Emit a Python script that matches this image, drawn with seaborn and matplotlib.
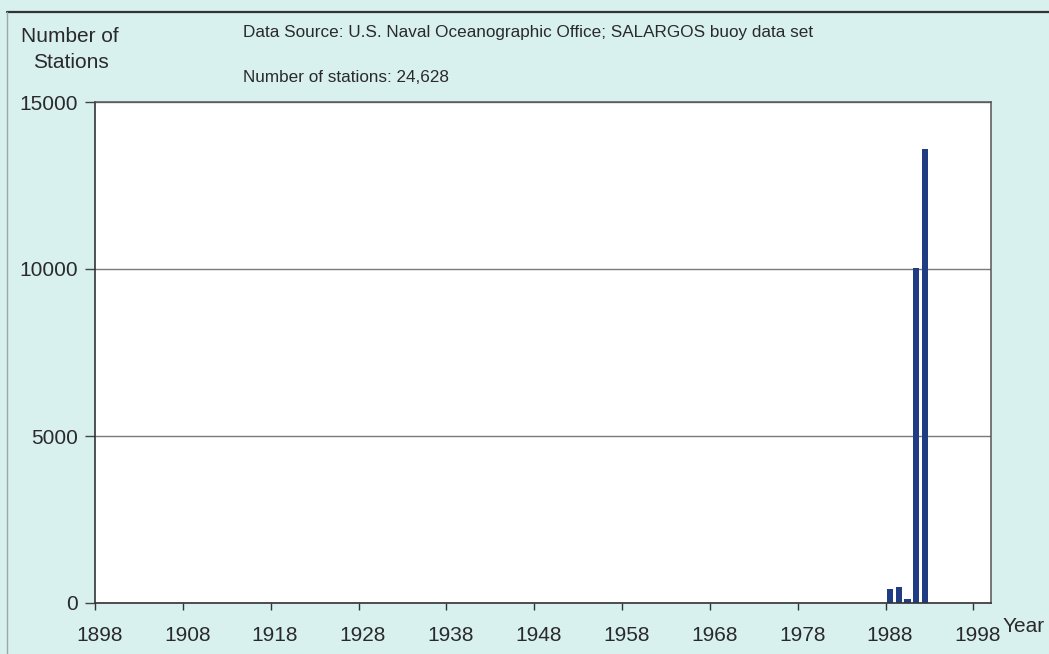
import matplotlib
matplotlib.use("Agg")
import matplotlib.pyplot as plt
from matplotlib.lines import Line2D
import numpy as np
import pandas as pd
import seaborn as sns

# Yearly station counts, 1898-1999 (only 1988-1992 carry observations)
years = list(range(1898, 2000))
obs_years = [1988, 1989, 1990, 1991, 1992]
obs_counts = [420, 470, 128, 10030, 13580]

y_ticks = [0, 5000, 10000, 15000]
x_label_years = [1898, 1908, 1918, 1928, 1938, 1948, 1958, 1968, 1978, 1988, 1998]

title_source = "Data Source: U.S. Naval Oceanographic Office; SALARGOS buoy data set"
title_total = "Number of stations: 24,628"

counts = {y: 0 for y in years}
counts.update(dict(zip(obs_years, obs_counts)))
df = pd.DataFrame({"year": [str(y) for y in years],
                   "stations": [counts[y] for y in years]})

sns.set_theme(style="white")
plt.rcParams["font.family"] = ["Liberation Sans", "DejaVu Sans"]

W, H = 1049, 654
fig = plt.figure(figsize=(W / 100, H / 100), dpi=100)
fig.patch.set_facecolor("#d8f0ee")

left, right, top, bottom = 95, 991, 102, 603
ax = fig.add_axes([left / W, 1 - bottom / H, (right - left) / W, (bottom - top) / H])
ax.set_facecolor("white")

sns.barplot(data=df, x="year", y="stations", order=[str(y) for y in years],
            color="#203c82", saturation=1, width=0.72, linewidth=0, ax=ax)

n = len(years)
ax.set_xlim(-0.5, n - 0.5)
ax.set_ylim(0, 15000)

# tick marks sit on category boundaries, labels on category centres
idx = [years.index(y) for y in x_label_years]
ax.set_xticks([i - 0.5 for i in idx])
ax.set_xticklabels([])
ax.set_xticks(idx, minor=True)
ax.set_xticklabels([str(y) for y in x_label_years], minor=True)
ax.tick_params(axis="x", which="major", bottom=True, length=5, width=1,
               color="#333333", direction="out")
ax.tick_params(axis="x", which="minor", bottom=True, length=0, pad=16.5,
               labelsize=15, labelcolor="#2a2a2a")

ax.set_yticks(y_ticks)
ax.set_yticklabels([str(v) for v in y_ticks])
ax.tick_params(axis="y", left=True, length=7, width=1, color="#444444", direction="out",
               labelsize=15, labelcolor="#2a2a2a", pad=5.5)
ax.yaxis.grid(True, color="#7a7a7a", linewidth=1)
ax.set_axisbelow(True)

ax.set_xlabel("")
ax.set_ylabel("")
for side in ["left", "bottom"]:
    ax.spines[side].set_color("#333333")
    ax.spines[side].set_linewidth(1.2)
for side in ["top", "right"]:
    ax.spines[side].set_visible(True)
    ax.spines[side].set_color("#555555")
    ax.spines[side].set_linewidth(1.1)

# chart frame (top and left edges)
fig.add_artist(Line2D([7 / W, 1], [1 - 12 / H, 1 - 12 / H], color="#333333", linewidth=1.6))
fig.add_artist(Line2D([7 / W, 7 / W], [0, 1 - 12 / H], color="#9aa9a8", linewidth=1))

txt = "#2a2a2a"
fig.text(70 / W, 1 - 37 / H, "Number of", ha="center", va="center", fontsize=15, color=txt)
fig.text(71 / W, 1 - 62 / H, "Stations", ha="center", va="center", fontsize=15, color=txt)
fig.text(243 / W, 1 - 33 / H, title_source, ha="left", va="center", fontsize=12.3, color=txt)
fig.text(243 / W, 1 - 77 / H, title_total, ha="left", va="center", fontsize=12.3, color=txt)
fig.text(1003 / W, 1 - 626 / H, "Year", ha="left", va="center", fontsize=15, color=txt)

fig.savefig("out.png", dpi=100, facecolor=fig.get_facecolor())
